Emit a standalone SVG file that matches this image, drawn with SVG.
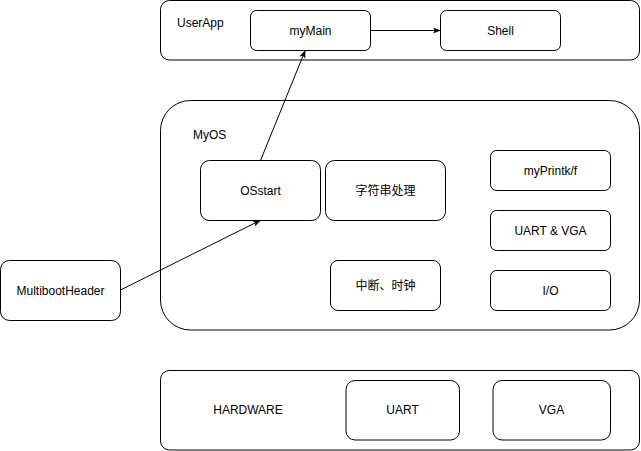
<svg xmlns="http://www.w3.org/2000/svg" width="641" height="451" viewBox="0 0 641 451">
<style>
.box{fill:#fff;stroke:#000;stroke-width:1}
.t{font-family:"Liberation Sans",Arial,"Noto Sans CJK SC",sans-serif;font-size:12px;fill:#000;text-anchor:middle;dominant-baseline:central}
.tl{font-family:"Liberation Sans",Arial,sans-serif;font-size:12px;fill:#000;dominant-baseline:central}
.e{fill:none;stroke:#000;stroke-width:1}
</style>
<defs>
<marker id="arr" viewBox="0 0 10 10" refX="9" refY="5" markerWidth="8" markerHeight="8" markerUnits="userSpaceOnUse" orient="auto">
<path d="M0,1 L10,5 L0,9 L2.5,5 Z" fill="#000"/>
</marker>
</defs>
<g id="userapp"><rect class="box" x="160.5" y="0.5" width="479" height="59.5" rx="9"/><text class="tl" x="177" y="23">UserApp</text></g>
<g id="myos"><rect class="box" x="160.5" y="100.5" width="479" height="229.5" rx="30"/><text class="tl" x="193" y="135">MyOS</text></g>
<g id="hardware"><rect class="box" x="160.5" y="370.5" width="479" height="79.5" rx="9"/><text class="t" x="248" y="410">HARDWARE</text></g>
<g id="mymain"><rect class="box" x="250.5" y="10.5" width="120" height="40" rx="6"/><text class="t" x="310.5" y="30.5">myMain</text></g>
<g id="shell"><rect class="box" x="440.5" y="10.5" width="120" height="40" rx="6"/><text class="t" x="500.5" y="30.5">Shell</text></g>
<g id="osstart"><rect class="box" x="200.5" y="160.5" width="120" height="60" rx="9"/><text class="t" x="260.5" y="190.5">OSstart</text></g>
<g id="strproc"><rect class="box" x="325.5" y="160.5" width="120" height="60" rx="9"/><text class="t" x="385.5" y="190.5">字符串处理</text></g>
<g id="myprintk"><rect class="box" x="490.5" y="150.5" width="120" height="40" rx="6"/><text class="t" x="550.5" y="170.5">myPrintk/f</text></g>
<g id="uartvga"><rect class="box" x="490.5" y="210.5" width="120" height="40" rx="6"/><text class="t" x="550.5" y="230.5">UART &amp; VGA</text></g>
<g id="io"><rect class="box" x="490.5" y="270.5" width="120" height="40" rx="6"/><text class="t" x="550.5" y="290.5">I/O</text></g>
<g id="interrupt"><rect class="box" x="330.5" y="260.5" width="110" height="50" rx="7.5"/><text class="t" x="385.5" y="285.5">中断、时钟</text></g>
<g id="multiboot"><rect class="box" x="0.5" y="260.5" width="120" height="60" rx="9"/><text class="t" x="60.5" y="290.5">MultibootHeader</text></g>
<g id="uart"><rect class="box" x="346" y="380.5" width="113.5" height="59.5" rx="9"/><text class="t" x="402.5" y="410">UART</text></g>
<g id="vga"><rect class="box" x="493" y="380.5" width="117.5" height="59.5" rx="9"/><text class="t" x="551.5" y="410">VGA</text></g>
<g id="connectors">
<line class="e" x1="370.5" y1="30.5" x2="440" y2="30.5" marker-end="url(#arr)"/>
<line class="e" x1="260.5" y1="160.5" x2="305" y2="51" marker-end="url(#arr)"/>
<line class="e" x1="120.5" y1="290" x2="260" y2="220.5" marker-end="url(#arr)"/>
</g>
</svg>
